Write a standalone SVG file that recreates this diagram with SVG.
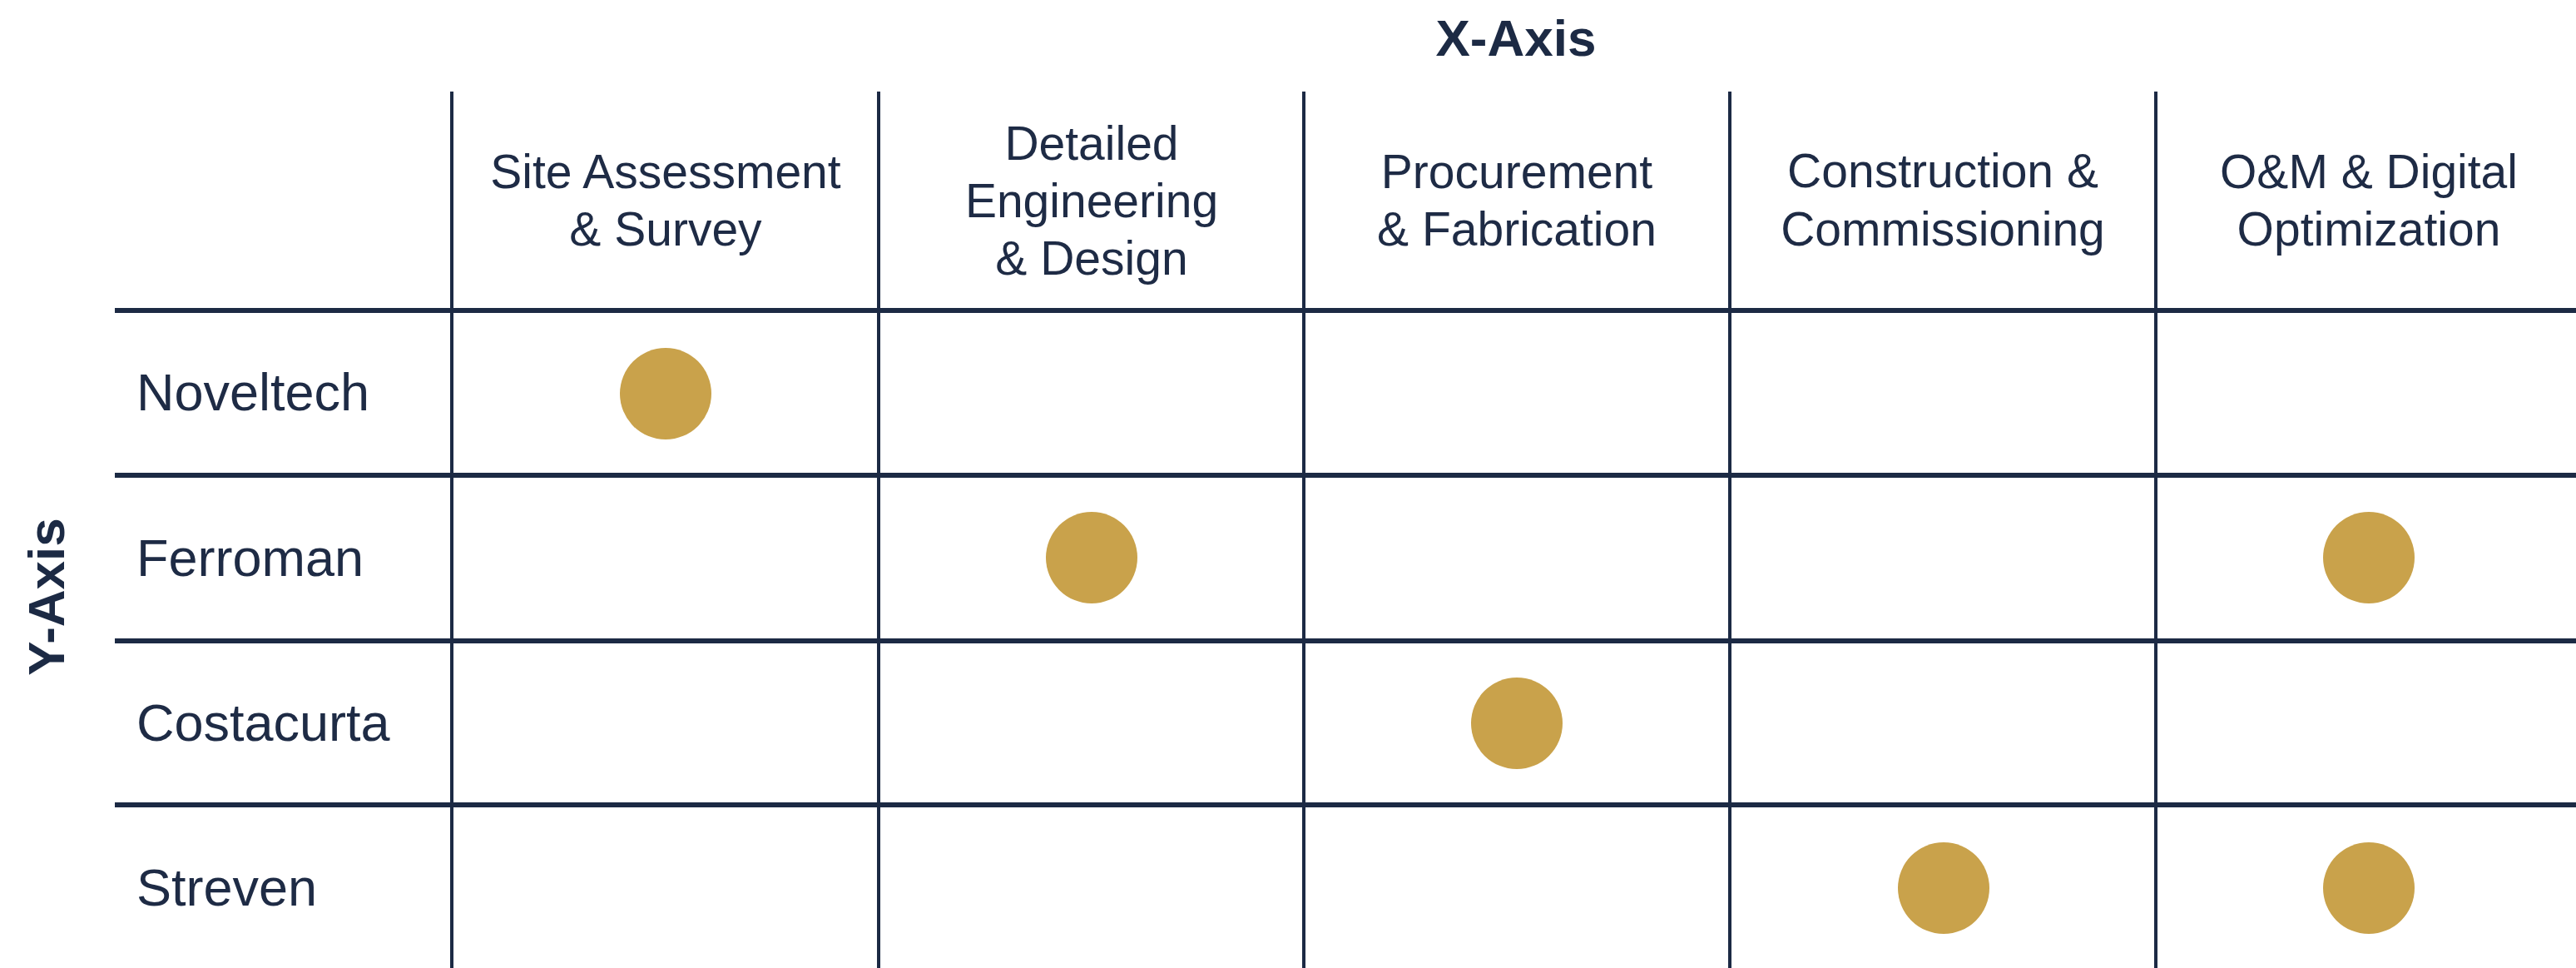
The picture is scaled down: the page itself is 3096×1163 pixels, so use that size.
<svg xmlns="http://www.w3.org/2000/svg" width="3096" height="1163" viewBox="0 0 3096 1163">
<style>
.bg{fill:#ffffff}
.hl{stroke:#1c2a44;stroke-width:6;fill:none}
.vl{stroke:#1c2a44;stroke-width:4;fill:none}
.axis{font-family:"Liberation Sans",Arial,sans-serif;font-weight:bold;font-size:62px;fill:#1c2a44}
.hdr{font-family:"Liberation Sans",Arial,sans-serif;font-size:57px;fill:#1e2b45;text-anchor:middle}
.row{font-family:"Liberation Sans",Arial,sans-serif;font-size:63px;fill:#1e2b45}
.dot{fill:#c9a24b}
</style>
<rect class="bg" x="0" y="0" width="3096" height="1163"/>
<g id="axes">
<text class="axis" x="1822" y="67" text-anchor="middle">X-Axis</text>
<text class="axis" transform="translate(77,717) rotate(-90)" text-anchor="middle">Y-Axis</text>
</g>
<g id="connectors">
<line class="hl" x1="138" y1="373" x2="3096" y2="373"/>
<line class="hl" x1="138" y1="571" x2="3096" y2="571"/>
<line class="hl" x1="138" y1="770" x2="3096" y2="770"/>
<line class="hl" x1="138" y1="967" x2="3096" y2="967"/>
<line class="hl" x1="138" y1="1166" x2="3096" y2="1166" stroke-opacity="0.25"/>
<line class="vl" x1="543" y1="110" x2="543" y2="1163"/>
<line class="vl" x1="1056" y1="110" x2="1056" y2="1163"/>
<line class="vl" x1="1567" y1="110" x2="1567" y2="1163"/>
<line class="vl" x1="2079" y1="110" x2="2079" y2="1163"/>
<line class="vl" x1="2591" y1="110" x2="2591" y2="1163"/>
</g>
<g id="col-site">
<text class="hdr" x="800" y="226">Site Assessment</text>
<text class="hdr" x="800" y="295">&amp; Survey</text>
</g>
<g id="col-engineering">
<text class="hdr" x="1312" y="192">Detailed</text>
<text class="hdr" x="1312" y="261">Engineering</text>
<text class="hdr" x="1312" y="330">&amp; Design</text>
</g>
<g id="col-procurement">
<text class="hdr" x="1823" y="226">Procurement</text>
<text class="hdr" x="1823" y="295">&amp; Fabrication</text>
</g>
<g id="col-construction">
<text class="hdr" x="2335" y="225">Construction &amp;</text>
<text class="hdr" x="2335" y="295">Commissioning</text>
</g>
<g id="col-om">
<text class="hdr" x="2847" y="226">O&amp;M &amp; Digital</text>
<text class="hdr" x="2847" y="295">Optimization</text>
</g>
<g id="row-noveltech">
<text class="row" x="164" y="493">Noveltech</text>
<circle class="dot" cx="800" cy="473" r="55"/>
</g>
<g id="row-ferroman">
<text class="row" x="164" y="692">Ferroman</text>
<circle class="dot" cx="1312" cy="670" r="55"/>
<circle class="dot" cx="2847" cy="670" r="55"/>
</g>
<g id="row-costacurta">
<text class="row" x="164" y="890">Costacurta</text>
<circle class="dot" cx="1823" cy="869" r="55"/>
</g>
<g id="row-streven">
<text class="row" x="164" y="1088">Streven</text>
<circle class="dot" cx="2336" cy="1067" r="55"/>
<circle class="dot" cx="2847" cy="1067" r="55"/>
</g>
</svg>
